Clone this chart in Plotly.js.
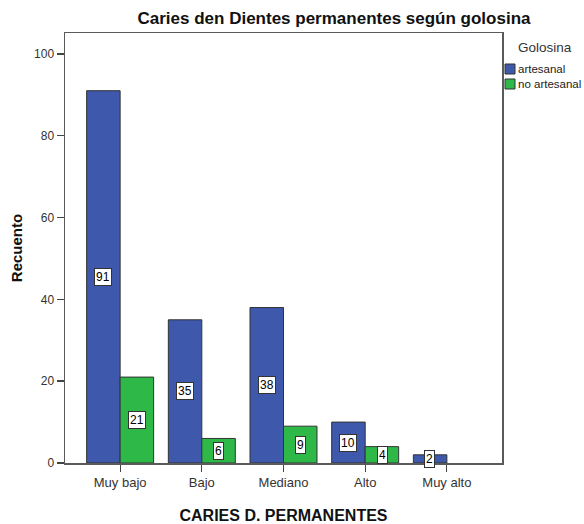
<!DOCTYPE html>
<html>
<head>
<meta charset="utf-8">
<script src="https://cdn.plot.ly/plotly-3.0.1.min.js"></script>
<style>html,body{margin:0;padding:0;background:#fff;}#chart{width:584px;height:524px;}</style>
</head>
<body>
<div id="chart"></div>
<script>
var categories = ["Muy bajo", "Bajo", "Mediano", "Alto", "Muy alto"];
var seriesNames = ["artesanal", "no artesanal"];
var artesanal = [91, 35, 38, 10, 2];
var noArtesanal = [21, 6, 9, 4, 0];
var yTickVals = [0, 20, 40, 60, 80, 100];
var colors = ["#3E58AC", "#2EB848"];

var chartTitle = "Caries den Dientes permanentes según golosina";
var xTitle = "CARIES D. PERMANENTES";
var yTitle = "Recuento";
var legendTitle = "Golosina";

var FONT = "Liberation Sans, Arial, sans-serif";
var seriesData = [artesanal, noArtesanal];

var traces = seriesData.map(function (vals, i) {
  return {
    type: "bar",
    name: seriesNames[i],
    x: categories,
    y: vals,
    marker: {
      color: colors[i],
      line: { color: "#333333", width: vals.map(function (v) { return v > 0 ? 1 : 0; }) }
    },
    showlegend: false,
    hoverinfo: "x+y+name"
  };
});

var annotations = [];
seriesData.forEach(function (vals, i) {
  vals.forEach(function (v, j) {
    if (v > 0) {
      annotations.push({
        x: categories[j], y: v / 2, xref: "x", yref: "y",
        xshift: i === 0 ? -17 : 17,
        text: String(v), showarrow: false,
        font: { family: FONT, size: 12, color: "#000" },
        bgcolor: "#ffffff", bordercolor: "#333333", borderwidth: 1, borderpad: 1
      });
    }
  });
});

// legend (drawn in pixel-like paper coordinates)
var W = 584, H = 524;
var m = { l: 65, r: 82, t: 33, b: 61 };
var pw = W - m.l - m.r, ph = H - m.t - m.b;
function px(x) { return (x - m.l) / pw; }
function py(y) { return (H - m.b - y) / ph; }

annotations.push({
  x: px(516), y: py(47), xref: "paper", yref: "paper", xanchor: "left", yanchor: "middle",
  text: legendTitle, showarrow: false, font: { family: FONT, size: 13.5, color: "#333" }
});
var shapes = [];
seriesNames.forEach(function (nm, i) {
  var yc = 69 + i * 15;
  shapes.push({
    type: "rect", xref: "paper", yref: "paper",
    x0: px(505), x1: px(515), y0: py(yc - 5), y1: py(yc + 5),
    fillcolor: colors[i], line: { color: "#333", width: 1 }
  });
  annotations.push({
    x: px(516), y: py(yc), xref: "paper", yref: "paper", xanchor: "left", yanchor: "middle",
    text: nm, showarrow: false, font: { family: FONT, size: 11.5, color: "#222" }
  });
});

var layout = {
  width: W, height: H,
  margin: m,
  paper_bgcolor: "#fff", plot_bgcolor: "#fff",
  font: { family: FONT, color: "#333" },
  title: {
    text: "<b>" + chartTitle + "</b>",
    x: 334 / W, xref: "container", xanchor: "center",
    y: 1 - 18 / H, yref: "container", yanchor: "middle",
    font: { family: FONT, size: 17, color: "#111" }
  },
  barmode: "group", bargap: 0.18, bargroupgap: 0,
  xaxis: {
    type: "category", range: [-0.675, 4.675],
    showline: true, linecolor: "#5a5a5a", linewidth: 1.5, mirror: true,
    ticks: "outside", ticklen: 7, tickcolor: "#444", tickwidth: 1,
    tickfont: { family: FONT, size: 13, color: "#333" },
    showgrid: false, zeroline: false,
    title: { text: "<b>" + xTitle + "</b>", standoff: 20, font: { family: FONT, size: 16, color: "#111" } }
  },
  yaxis: {
    range: [0, 105.1], tickvals: yTickVals,
    showline: true, linecolor: "#5a5a5a", linewidth: 1.5, mirror: true,
    ticks: "outside", ticklen: 7, tickcolor: "#444", tickwidth: 1.5,
    tickfont: { family: FONT, size: 12, color: "#333" },
    showgrid: false, zeroline: false,
    title: { text: "<b>" + yTitle + "</b>", standoff: 8, font: { family: FONT, size: 15, color: "#111" } }
  },
  annotations: annotations,
  shapes: shapes
};

Plotly.newPlot("chart", traces, layout, { displayModeBar: false, staticPlot: true });
</script>
</body>
</html>
